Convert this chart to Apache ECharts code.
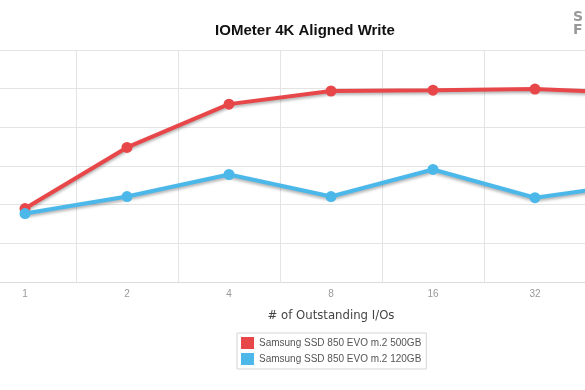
<!DOCTYPE html>
<html>
<head>
<meta charset="utf-8">
<script src="https://cdn.jsdelivr.net/npm/echarts@6/dist/echarts.min.js"></script>
<style>html,body{margin:0;padding:0;background:#fff;overflow:hidden;width:585px;height:390px;}#c{position:absolute;left:-100px;top:0;width:800px;height:390px;}</style>
</head>
<body>
<div id="c"></div>
<script>
const categories = ['1', '2', '4', '8', '16', '32', '64'];
const series500 = [38000, 69600, 92000, 98800, 99200, 99800, 97600];
const series120 = [35400, 44200, 55600, 44200, 58200, 43600, 51000];
const seriesNames = ['Samsung SSD 850 EVO m.2 500GB', 'Samsung SSD 850 EVO m.2 120GB'];
const yTicks = { min: 0, max: 120000, interval: 20000 };

const chart = echarts.init(document.getElementById('c'), null, { renderer: 'canvas' });
const shadow = { shadowColor: 'rgba(0,0,0,0.3)', shadowBlur: 3, shadowOffsetY: 2 };
chart.setOption({
  animation: false,
  backgroundColor: '#fff',
  title: {
    text: 'IOMeter 4K Aligned Write',
    left: 400, top: 18, textAlign: 'center',
    textStyle: { fontFamily: 'Liberation Sans, Arial, sans-serif', fontSize: 15, fontWeight: 'bold', color: '#111' }
  },
  graphic: [
    { type: 'text', x: 673, y: 10, style: { text: 'S', fontSize: 14, fontWeight: 'bold', fontFamily: 'DejaVu Sans', fill: '#999' } },
    { type: 'text', x: 673, y: 23, style: { text: 'F', fontSize: 14, fontWeight: 'bold', fontFamily: 'DejaVu Sans', fill: '#999' } }
  ],
  legend: {
    orient: 'vertical', left: 337, top: 333,
    data: seriesNames,
    icon: 'rect', itemWidth: 13, itemHeight: 12, itemGap: 4,
    borderColor: '#d5d5d5', borderWidth: 1, padding: [4, 5, 4, 4],
    textStyle: { fontFamily: 'Liberation Sans, Arial, sans-serif', fontSize: 10, color: '#555' }
  },
  grid: { left: 74, right: 12, top: 50, bottom: 108, containLabel: false },
  xAxis: {
    type: 'category', data: categories, boundaryGap: true,
    name: '# of Outstanding I/Os', nameLocation: 'middle', nameGap: 27,
    nameTextStyle: { fontFamily: 'DejaVu Sans Condensed, DejaVu Sans', fontSize: 13, color: '#444' },
    axisLine: { lineStyle: { color: '#dcdcdc' } },
    axisTick: { show: false },
    axisLabel: { color: '#999', fontSize: 10, margin: 7, fontFamily: 'Liberation Sans, Arial, sans-serif' },
    splitLine: { show: true, lineStyle: { color: '#e4e4e4' } }
  },
  yAxis: {
    type: 'value', min: yTicks.min, max: yTicks.max, interval: yTicks.interval,
    axisLine: { show: false }, axisTick: { show: false }, axisLabel: { show: false },
    splitLine: { lineStyle: { color: '#e4e4e4' } }
  },
  series: [
    {
      name: seriesNames[0], type: 'line', data: series500,
      symbol: 'circle', symbolSize: 11, z: 3,
      itemStyle: { color: '#e8474a' },
      lineStyle: Object.assign({ width: 4, color: '#e8474a' }, shadow)
    },
    {
      name: seriesNames[1], type: 'line', data: series120,
      symbol: 'circle', symbolSize: 11, z: 4,
      itemStyle: { color: '#4cb8ea' },
      lineStyle: Object.assign({ width: 4, color: '#4cb8ea' }, shadow)
    }
  ]
});
</script>
</body>
</html>
